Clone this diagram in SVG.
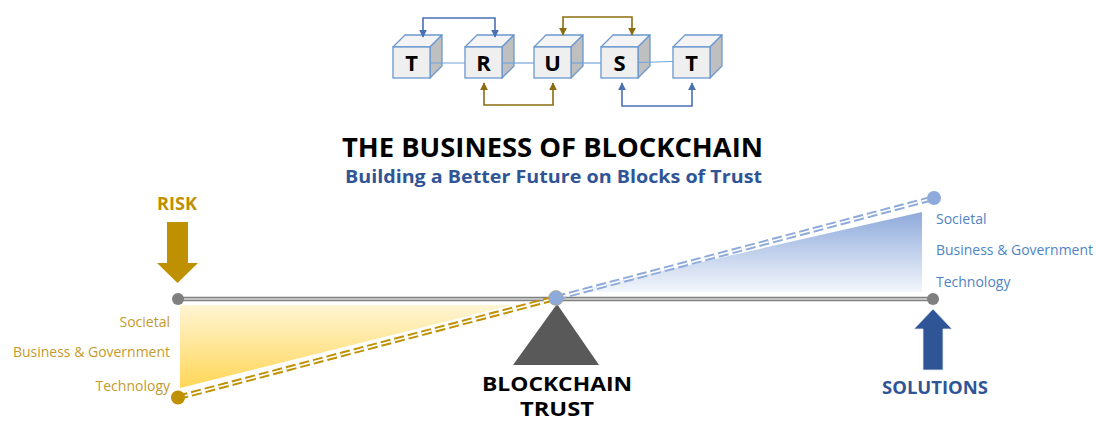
<svg xmlns="http://www.w3.org/2000/svg" width="1096" height="421" viewBox="0 0 1096 421">
  <style>
    .cube-front { fill: #efefef; stroke: #6a98cf; stroke-width: 1.3; }
    .cube-top { fill: #f4f4f4; stroke: #6a98cf; stroke-width: 1.3; stroke-linejoin: round; }
    .cube-side { fill: #bfbfbf; stroke: #6a98cf; stroke-width: 1.3; stroke-linejoin: round; }
    .letter { font-family: "Open Sans", "Liberation Sans", sans-serif; font-weight: bold; font-size: 22px; fill: #000; text-anchor: middle; }
    .link { stroke: #6fa3dc; stroke-width: 1.2; fill: none; }
    .loop-blue { stroke: #4a72b3; stroke-width: 1.6; fill: none; }
    .loop-gold { stroke: #8c6d12; stroke-width: 1.6; fill: none; }
    .title { font-family: "Open Sans", "Liberation Sans", sans-serif; font-weight: bold; }
    .lbl { font-family: "Open Sans", "Liberation Sans", sans-serif; font-size: 14px; }
    .lbl-gold { fill: #c39a2c; text-anchor: end; }
    .lbl-blue { fill: #4f84c4; }
  </style>
  <defs>
    <marker id="head-blue" viewBox="0 0 10 10" refX="9" refY="5" markerWidth="5" markerHeight="5" orient="auto-start-reverse" markerUnits="strokeWidth">
      <path d="M0,0 L10,5 L0,10 Z" fill="#4a72b3"/>
    </marker>
    <marker id="head-gold" viewBox="0 0 10 10" refX="9" refY="5" markerWidth="5" markerHeight="5" orient="auto-start-reverse" markerUnits="strokeWidth">
      <path d="M0,0 L10,5 L0,10 Z" fill="#8c6d12"/>
    </marker>
    <linearGradient id="grad-risk" x1="0" y1="0" x2="0" y2="1">
      <stop offset="0" stop-color="#fff5d4"/>
      <stop offset="1" stop-color="#ffd657"/>
    </linearGradient>
    <linearGradient id="grad-solution" x1="0" y1="0" x2="0" y2="1">
      <stop offset="0" stop-color="#8eaadb"/>
      <stop offset="1" stop-color="#f3f6fc"/>
    </linearGradient>
  </defs>

  <!-- T R U S T cube row -->
  <g id="cube-t1">
    <polygon class="cube-top" points="393,47 405,35 442,35 430,47"/>
    <polygon class="cube-side" points="430,47 442,35 442,66 430,78"/>
    <rect class="cube-front" x="393" y="47" width="37" height="31"/>
    <text class="letter" x="411.5" y="71">T</text>
  </g>
  <g id="cube-r">
    <polygon class="cube-top" points="465,47 477,35 514,35 502,47"/>
    <polygon class="cube-side" points="502,47 514,35 514,66 502,78"/>
    <rect class="cube-front" x="465" y="47" width="37" height="31"/>
    <text class="letter" x="483.5" y="71">R</text>
  </g>
  <g id="cube-u">
    <polygon class="cube-top" points="534,47 546,35 583,35 571,47"/>
    <polygon class="cube-side" points="571,47 583,35 583,66 571,78"/>
    <rect class="cube-front" x="534" y="47" width="37" height="31"/>
    <text class="letter" x="552.5" y="71">U</text>
  </g>
  <g id="cube-s">
    <polygon class="cube-top" points="601,47 613,35 650,35 638,47"/>
    <polygon class="cube-side" points="638,47 650,35 650,66 638,78"/>
    <rect class="cube-front" x="601" y="47" width="37" height="31"/>
    <text class="letter" x="619.5" y="71">S</text>
  </g>
  <g id="cube-t2">
    <polygon class="cube-top" points="673,47 685,35 722,35 710,47"/>
    <polygon class="cube-side" points="710,47 722,35 722,66 710,78"/>
    <rect class="cube-front" x="673" y="47" width="37" height="31"/>
    <text class="letter" x="691.5" y="71">T</text>
  </g>

  <!-- links between the cubes and swap loops -->
  <g id="connectors">
    <line class="link" x1="430" y1="63" x2="465" y2="63"/>
    <line class="link" x1="502" y1="63" x2="534" y2="63"/>
    <line class="link" x1="571" y1="63" x2="601" y2="63"/>
    <line class="link" x1="638" y1="62.5" x2="673" y2="61.5"/>
    <polyline class="loop-blue" points="423,37 423,18 495,18 495,37" marker-start="url(#head-blue)" marker-end="url(#head-blue)"/>
    <polyline class="loop-gold" points="563,35 563,17 632,17 632,35" marker-start="url(#head-gold)" marker-end="url(#head-gold)"/>
    <polyline class="loop-gold" points="484,83 484,105 553,105 553,83" marker-start="url(#head-gold)" marker-end="url(#head-gold)"/>
    <polyline class="loop-blue" points="622,83 622,106 692,106 692,83" marker-start="url(#head-blue)" marker-end="url(#head-blue)"/>
  </g>

  <!-- headings -->
  <g id="heading">
    <text class="title" x="342" y="157" font-size="27" fill="#000" textLength="421" lengthAdjust="spacingAndGlyphs">THE BUSINESS OF BLOCKCHAIN</text>
    <text class="title" x="345" y="183" font-size="18" fill="#2f5597" textLength="417" lengthAdjust="spacingAndGlyphs">Building a Better Future on Blocks of Trust</text>
  </g>

  <!-- risk side -->
  <g id="risk">
    <text class="title" x="157" y="210" font-size="17" fill="#bf9000" textLength="40" lengthAdjust="spacingAndGlyphs">RISK</text>
    <polygon points="167,222 188,222 188,263 198,263 177.5,283 157,263 167,263" fill="#bf9000"/>
    <polygon points="180,305 512,305 180,388" fill="url(#grad-risk)"/>
    <text class="lbl lbl-gold" x="170" y="327">Societal</text>
    <text class="lbl lbl-gold" x="170" y="357" textLength="157" lengthAdjust="spacingAndGlyphs">Business &amp; Government</text>
    <text class="lbl lbl-gold" x="170" y="391">Technology</text>
  </g>

  <!-- solutions side -->
  <g id="solutions">
    <polygon points="922,212 922,292 570,292" fill="url(#grad-solution)"/>
    <text class="lbl lbl-blue" x="936" y="224">Societal</text>
    <text class="lbl lbl-blue" x="936" y="255" textLength="157" lengthAdjust="spacingAndGlyphs">Business &amp; Government</text>
    <text class="lbl lbl-blue" x="936" y="287">Technology</text>
    <polygon points="933,309 952,329 943,329 943,370 923,370 923,329 914,329" fill="#2f5597" stroke="#dfe6f2" stroke-width="0.8"/>
    <text class="title" x="882" y="394" font-size="17" fill="#2f5597" textLength="106" lengthAdjust="spacingAndGlyphs">SOLUTIONS</text>
  </g>

  <!-- balance beam and fulcrum -->
  <g id="beam">
    <line x1="178" y1="299" x2="933" y2="299" stroke="#7f7f7f" stroke-width="4.5"/>
    <line x1="178" y1="299" x2="933" y2="299" stroke="#d9d9d9" stroke-width="1.5"/>
    <circle cx="178" cy="299" r="6" fill="#7f7f7f"/>
    <circle cx="933" cy="299" r="6" fill="#7f7f7f"/>
  </g>
  <g id="fulcrum">
    <polygon points="557,304 599,365 513,365" fill="#595959"/>
    <text class="title" x="557" y="391" font-size="20" fill="#000" text-anchor="middle" textLength="150" lengthAdjust="spacingAndGlyphs">BLOCKCHAIN</text>
    <text class="title" x="557" y="416" font-size="20" fill="#000" text-anchor="middle" textLength="74" lengthAdjust="spacingAndGlyphs">TRUST</text>
  </g>

  <!-- tilted beam: dashed double rails -->
  <g id="tilt">
    <path d="M178,397.5 L556,298" stroke="#bf9000" stroke-width="5.5" stroke-dasharray="10 4" fill="none"/>
    <path d="M178,397.5 L556,298" stroke="#ffffff" stroke-width="1.6" stroke-dasharray="10 4" fill="none"/>
    <path d="M556,298 L934,198" stroke="#8eaadb" stroke-width="5.5" stroke-dasharray="10 4" fill="none"/>
    <path d="M556,298 L934,198" stroke="#ffffff" stroke-width="1.6" stroke-dasharray="10 4" fill="none"/>
    <circle cx="178" cy="397.5" r="7" fill="#bf9000"/>
    <circle cx="934" cy="198" r="7" fill="#8eaadb"/>
    <circle cx="556" cy="298" r="7.5" fill="#8eaadb" stroke="#b9a46a" stroke-width="0.6"/>
  </g>
</svg>
